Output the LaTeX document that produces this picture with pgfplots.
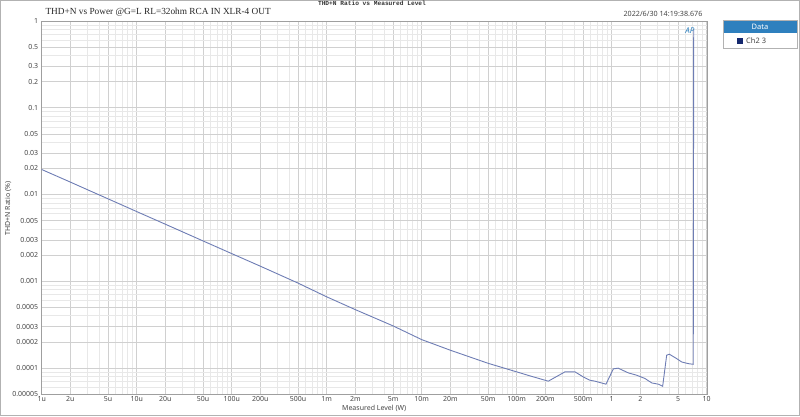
\documentclass[border=0pt]{standalone}
\usepackage{pgfplots}
\pgfplotsset{compat=1.18}
\usepackage{fontspec}
\setmainfont{Noto Sans}
\newfontfamily\titlefont{Liberation Serif}
\newfontfamily\smallmono{Liberation Mono}
\definecolor{curve}{RGB}{110,125,180}
\definecolor{gridmaj}{RGB}{208,208,208}
\definecolor{gridmin}{RGB}{232,232,232}
\definecolor{legblue}{RGB}{46,128,190}
\definecolor{chnavy}{RGB}{20,40,110}
\definecolor{tickgray}{RGB}{70,70,70}

\begin{document}
\begin{tikzpicture}[x=1pt,y=1pt]
\useasboundingbox (0,0) rectangle (800,416);
\draw[gray!60, line width=1pt] (0.5,0.5) rectangle (799.5,415.5);
\begin{axis}[
  at={(41.7pt,22pt)}, anchor=south west,
  scale only axis, width=665pt, height=373pt,
  xmode=log, ymode=log,
  xmin=1e-6, xmax=10, ymin=5e-5, ymax=1,
  axis line style={gray!75},
  major tick length=0pt, minor tick length=0pt,
  grid=both,
  major grid style={gridmaj, line width=0.6pt},
  minor grid style={gridmin, line width=0.5pt},
  xtick={1e-6,2e-6,5e-6,1e-5,2e-5,5e-5,1e-4,2e-4,5e-4,1e-3,2e-3,5e-3,1e-2,2e-2,5e-2,0.1,0.2,0.5,1,2,5,10},
  xticklabels={1u,2u,5u,10u,20u,50u,100u,200u,500u,1m,2m,5m,10m,20m,50m,100m,200m,500m,1,2,5,10},
  minor xtick={3e-6,4e-6,6e-6,7e-6,8e-6,9e-6,3e-5,4e-5,6e-5,7e-5,8e-5,9e-5,3e-4,4e-4,6e-4,7e-4,8e-4,9e-4,3e-3,4e-3,6e-3,7e-3,8e-3,9e-3,3e-2,4e-2,6e-2,7e-2,8e-2,9e-2,0.3,0.4,0.6,0.7,0.8,0.9,3,4,6,7,8,9},
  ytick={5e-5,1e-4,2e-4,3e-4,5e-4,1e-3,2e-3,3e-3,5e-3,0.01,0.02,0.03,0.05,0.1,0.2,0.3,0.5,1},
  yticklabels={0.00005,0.0001,0.0002,0.0003,0.0005,0.001,0.002,0.003,0.005,0.01,0.02,0.03,0.05,0.1,0.2,0.3,0.5,1},
  minor ytick={6e-5,7e-5,8e-5,9e-5,4e-4,6e-4,7e-4,8e-4,9e-4,4e-3,6e-3,7e-3,8e-3,9e-3,0.04,0.06,0.07,0.08,0.09,0.4,0.6,0.7,0.8,0.9},
  xticklabel style={font=\fontsize{7}{8}\selectfont, text=tickgray, yshift=1pt},
  yticklabel style={font=\fontsize{7}{8}\selectfont, text=tickgray},
  xlabel={Measured Level (W)},
  xlabel style={font=\fontsize{7}{8}\selectfont, text=tickgray, at={(axis description cs:0.5,0)}, anchor=north, yshift=-8pt},
  ylabel={THD+N Ratio (\%)},
  ylabel style={font=\fontsize{7}{8}\selectfont, text=tickgray, at={(axis description cs:-0.0507,0.497)}, anchor=center},
]
\addplot[curve, line width=0.9pt, mark=none] coordinates {
(1e-6,0.0194) (2e-6,0.0139) (3e-6,0.0114) (5e-6,0.0089) (1e-5,0.00635)
(2e-5,0.00454) (5e-5,0.00291) (1e-4,0.00208) (2e-4,0.00149) (5e-4,0.00095)
(1e-3,0.00066) (2e-3,0.00047) (5e-3,0.000305) (1e-2,0.000212) (2e-2,0.000160)
(5e-2,0.000113) (0.1,0.0000900) (0.138,0.0000809) (0.215,0.0000703)
(0.322,0.0000900) (0.411,0.0000900) (0.502,0.0000787) (0.590,0.0000721)
(0.667,0.0000703) (0.871,0.0000649) (1.04,0.0000975) (1.17,0.0000993)
(1.50,0.0000875) (1.83,0.0000824) (2.24,0.0000755) (2.64,0.0000671)
(3.10,0.0000649) (3.44,0.0000615) (3.79,0.000140) (4.04,0.000144)
(4.83,0.000128) (5.46,0.000117) (6.40,0.000112) (7.22,0.000110) (7.30,0.80)
};
\end{axis}
% header texts
\node[anchor=base west, font=\titlefont\fontsize{9.3}{10}\selectfont, text=black!85] at (42,401) {THD+N vs Power @G=L RL=32ohm RCA IN XLR-4 OUT};
\node[anchor=base, font=\smallmono\bfseries\fontsize{6.2}{7}\selectfont, text=black!80] at (372,410) {THD+N Ratio vs Measured Level};
\node[anchor=base east, font=\fontsize{7.2}{8}\selectfont, text=tickgray] at (706,399) {2022/6/30 14:19:38.676};
% AP logo
\node[font=\bfseries\itshape\fontsize{8}{8}\selectfont, text=legblue, inner sep=0pt] at (690,385) {AP};
% legend panel
\draw[gray!60, line width=0.8pt] (723.3,368) rectangle (797,395.3);
\fill[legblue] (723.7,383) rectangle (796.6,395);
\node[font=\bfseries\fontsize{7.5}{8}\selectfont, text=white] at (760,389) {Data};
\fill[chnavy] (737.3,372) rectangle (743.3,378);
\node[anchor=west, font=\fontsize{7.5}{8}\selectfont, text=tickgray, inner sep=0pt] at (746,375) {Ch2 3};
\end{tikzpicture}
\end{document}
